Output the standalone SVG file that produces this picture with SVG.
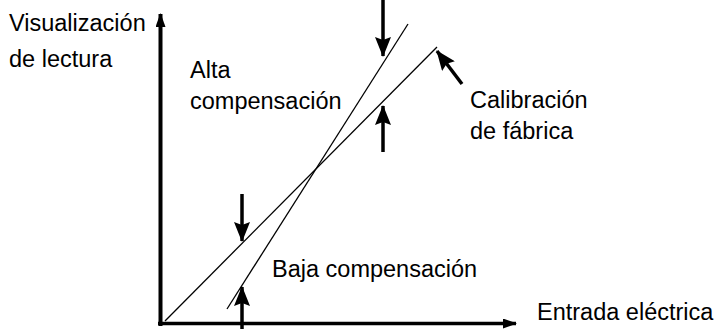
<svg xmlns="http://www.w3.org/2000/svg" width="715" height="329" viewBox="0 0 715 329">
  <style>
    .lbl { font-family: "Liberation Sans", Arial, sans-serif; font-size: 23.5px; fill: #000; }
    .thin { stroke: #000; stroke-width: 1.3; fill: none; }
    .arr { stroke: #000; stroke-width: 3.5; fill: none; }
    .axis { stroke: #000; fill: none; }
  </style>
  <defs>
    <marker id="head" markerUnits="userSpaceOnUse" viewBox="0 0 20 16" refX="19" refY="8" markerWidth="20" markerHeight="16" orient="auto">
      <path d="M0,0 L20,8 L0,16 L3,8 Z" fill="#000"/>
    </marker>
    <marker id="axhead" markerUnits="userSpaceOnUse" viewBox="0 0 14 10" refX="13" refY="5" markerWidth="14" markerHeight="10" orient="auto">
      <path d="M0,0 L14,5 L0,10 Z" fill="#000"/>
    </marker>
  </defs>

  <g id="axes">
    <line class="axis" x1="160.5" y1="326" x2="160.5" y2="14" stroke-width="4" marker-end="url(#axhead)"/>
    <line class="axis" x1="158" y1="323.5" x2="516" y2="323.5" stroke-width="3.5" marker-end="url(#axhead)"/>
  </g>

  <g id="connectors">
    <line id="factory-line" class="thin" x1="165" y1="321" x2="437" y2="47"/>
    <line id="high-comp-line" class="thin" x1="227" y1="309" x2="408" y2="24"/>
    <line class="arr" x1="383" y1="0" x2="383" y2="56" marker-end="url(#head)"/>
    <line class="arr" x1="383" y1="152" x2="383" y2="106" marker-end="url(#head)"/>
    <line class="arr" x1="242" y1="194" x2="242" y2="241" marker-end="url(#head)"/>
    <line class="arr" x1="242" y1="329" x2="242" y2="287" marker-end="url(#head)"/>
    <line class="arr" x1="462" y1="84" x2="437" y2="51" stroke-width="3" marker-end="url(#head)"/>
  </g>

  <g id="label-y">
    <text class="lbl" x="9" y="31">Visualización</text>
    <text class="lbl" x="9" y="67">de lectura</text>
  </g>
  <g id="label-alta">
    <text class="lbl" x="190" y="78">Alta</text>
    <text class="lbl" x="190" y="109">compensación</text>
  </g>
  <g id="label-calibracion">
    <text class="lbl" x="470" y="108">Calibración</text>
    <text class="lbl" x="470" y="139">de fábrica</text>
  </g>
  <g id="label-baja">
    <text class="lbl" x="272" y="277">Baja compensación</text>
  </g>
  <g id="label-x">
    <text class="lbl" x="537" y="320">Entrada eléctrica</text>
  </g>
</svg>
